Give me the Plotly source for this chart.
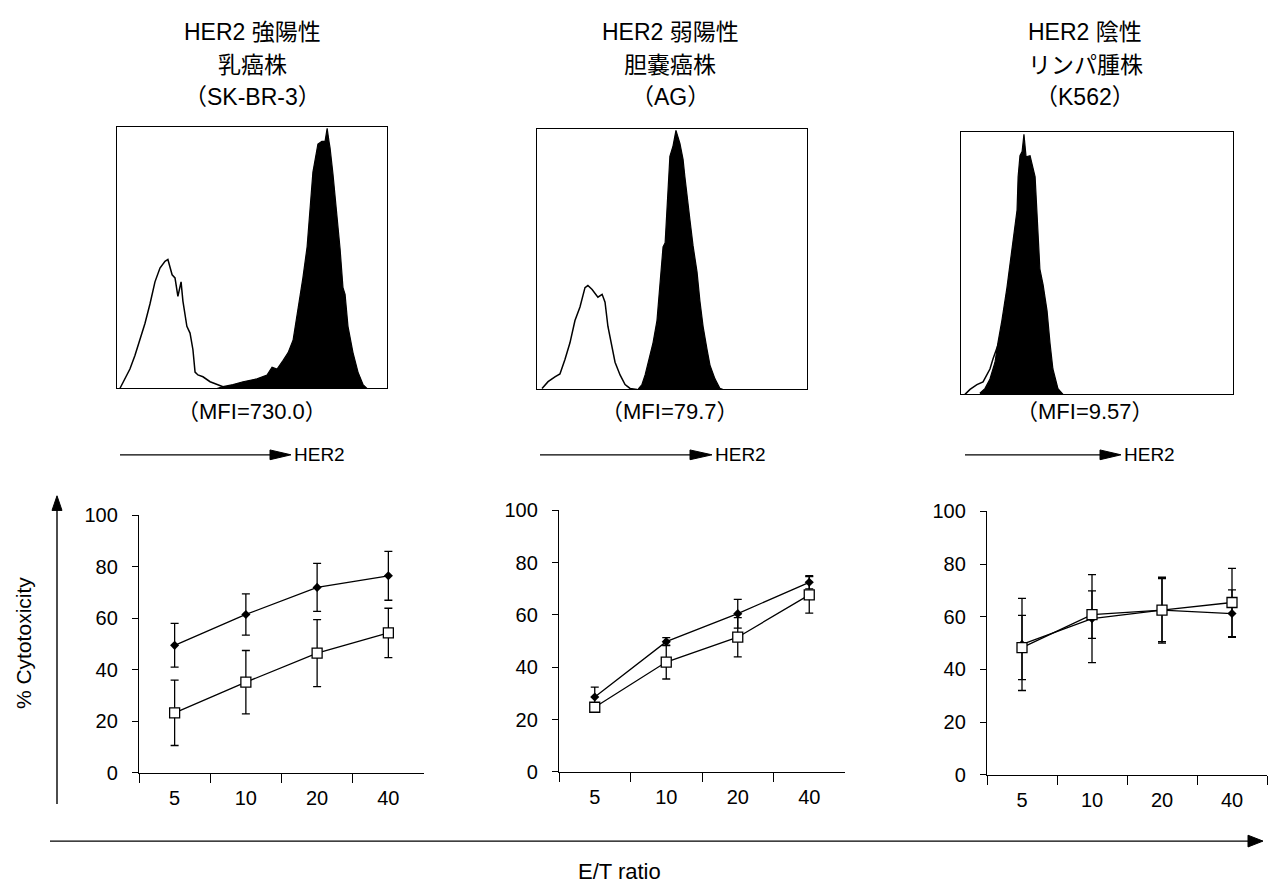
import plotly.graph_objects as go

W, H = 1281, 895

# ---------------- data ----------------
# E/T ratio categories
et_ratio = ["5", "10", "20", "40"]

# % Cytotoxicity, mean and SD: filled (◆) and open (□) series per target line
skbr3_filled = [49.5, 61.5, 72.0, 76.5]
skbr3_filled_sd = [8.5, 8.0, 9.3, 9.5]
skbr3_open = [23.3, 35.2, 46.5, 54.3]
skbr3_open_sd = [12.7, 12.3, 13.0, 9.6]

ag_filled = [28.6, 49.8, 60.5, 72.5]
ag_filled_sd = [3.8, 1.5, 5.5, 2.5]
ag_open = [24.7, 42.0, 51.5, 67.7]
ag_open_sd = [1.5, 6.5, 7.5, 7.0]

k562_filled = [49.5, 59.3, 62.5, 61.2]
k562_filled_sd = [17.5, 16.7, 12.5, 9.0]
k562_open = [48.3, 60.8, 62.5, 65.4]
k562_open_sd = [12.2, 9.0, 12.0, 13.0]

# Flow cytometry histograms (channel 0-1023, relative count 0-100)
skbr3_ctrl_ch = [11, 30, 49, 68, 87, 106, 125, 144, 163, 182, 193, 209, 220, 231, 243,
                 250, 265, 277, 288, 296, 307, 326, 353, 379, 402, 440, 504, 580]
skbr3_ctrl_ct = [0, 3.7, 7.5, 12.7, 18.7, 25, 32.5, 41, 46.3, 48.9, 49.6, 43.7, 42.5, 35.4, 41,
                 33.6, 23.9, 21.3, 14.9, 6.3, 5.2, 4.5, 2.6, 1.5, 0.7, 0.4, 0.2, 0]
skbr3_her2_ch = [379, 402, 440, 478, 531, 569, 588, 607, 630, 649, 668, 686, 705, 721, 732,
                 743, 762, 777, 789, 797, 804, 808, 819, 834, 846, 857, 865, 876, 895, 914,
                 933, 948]
skbr3_her2_ct = [0, 0.7, 1.5, 2.6, 3.7, 5.2, 8.2, 7.5, 10.8, 13.8, 18.7, 29.9, 42.5, 54.5, 68.3,
                 83.2, 94, 95, 95, 100, 95, 92.5, 82.5, 66.4, 53.7, 38.8, 36.2, 23.9, 13.8, 6.3,
                 1.5, 0]

ag_ctrl_ch = [19, 42, 68, 87, 106, 125, 144, 163, 182, 193, 209, 231, 247, 258, 269, 284,
              296, 315, 334, 353, 379]
ag_ctrl_ct = [0.4, 3.0, 4.9, 6.0, 11.6, 18.0, 26.6, 31.8, 39.3, 40.1, 38.6, 35.6, 36.7, 33.7,
              24.3, 16.9, 10.5, 5.6, 1.9, 0.4, 0]
ag_her2_ch = [383, 398, 410, 421, 440, 455, 467, 474, 478, 486, 493, 497, 504, 516, 527,
              542, 554, 561, 569, 580, 592, 607, 618, 630, 645, 656, 675, 694, 706]
ag_her2_ct = [0, 1.9, 5.6, 10.5, 18, 26.6, 40, 50, 55, 56.6, 71, 81, 90, 94, 100,
              95, 88.8, 82, 74, 65.5, 55.4, 45.3, 34, 24.3, 15.4, 9.4, 4.1, 0.4, 0]

k562_ctrl_ch = [15, 34, 60, 83, 109, 120, 150, 180, 210, 240, 270, 300, 330]
k562_ctrl_ct = [0, 1.9, 3.7, 4.8, 9.7, 13.4, 22, 36, 50, 55, 42, 20, 0]
k562_her2_ch = [71, 90, 109, 128, 139, 154, 173, 184, 196, 211, 215, 222, 230, 237, 245,
                260, 279, 286, 294, 297, 309, 324, 335, 346, 365, 384]
k562_her2_ct = [0.4, 2.2, 5.9, 12.3, 19.7, 28.3, 40.9, 50, 58.7, 70.6, 83.3, 91.4, 93, 99.6, 91,
                91.4, 83.3, 68.4, 53.5, 48, 42, 32, 19.7, 9.7, 2.2, 0]

titles = [["HER2 強陽性", "乳癌株", "（SK-BR-3）"],
          ["HER2 弱陽性", "胆嚢癌株", "（AG）"],
          ["HER2 陰性", "リンパ腫株", "（K562）"]]
mfi_labels = ["（MFI=730.0）", "（MFI=79.7）", "（MFI=9.57）"]

# ---------------- layout helpers ----------------
FONT = "Liberation Sans, Arial, Noto Sans CJK JP, sans-serif"


def px(x):
    return x / W


def py(y):
    return 1 - y / H


fig = go.Figure()

hist_boxes = [(117, 387, 119, 387), (537, 807, 121, 388), (961, 1233, 124, 393)]
line_boxes = [(139, 424, 517, 781), (559, 845, 512, 780), (987, 1267, 513, 783)]

hists = [(skbr3_ctrl_ch, skbr3_ctrl_ct, skbr3_her2_ch, skbr3_her2_ct),
         (ag_ctrl_ch, ag_ctrl_ct, ag_her2_ch, ag_her2_ct),
         (k562_ctrl_ch, k562_ctrl_ct, k562_her2_ch, k562_her2_ct)]
curves = [(skbr3_filled, skbr3_filled_sd, skbr3_open, skbr3_open_sd),
          (ag_filled, ag_filled_sd, ag_open, ag_open_sd),
          (k562_filled, k562_filled_sd, k562_open, k562_open_sd)]

axes = {}
for i in range(3):
    # histogram panel
    n = 2 * i + 1
    xa, ya = f"x{n}", f"y{n}"
    c_ch, c_ct, h_ch, h_ct = hists[i]
    fig.add_trace(go.Scatter(x=c_ch, y=c_ct, mode="lines", xaxis=xa, yaxis=ya,
                             line=dict(color="black", width=1.5), showlegend=False))
    fig.add_trace(go.Scatter(x=h_ch, y=h_ct, mode="lines", xaxis=xa, yaxis=ya,
                             line=dict(color="black", width=1.2),
                             fill="tozeroy", fillcolor="black", showlegend=False))
    x0, x1, y0, y1 = hist_boxes[i]
    axes[f"xaxis{n}"] = dict(domain=[px(x0), px(x1)], range=[0, 1024], anchor=ya,
                             showline=True, mirror=True, linecolor="black", linewidth=1.3,
                             showticklabels=False, ticks="", showgrid=False, zeroline=False)
    axes[f"yaxis{n}"] = dict(domain=[py(y1), py(y0)], range=[0, 100.5], anchor=xa,
                             showline=True, mirror=True, linecolor="black", linewidth=1.3,
                             showticklabels=False, ticks="", showgrid=False, zeroline=False)

    # cytotoxicity panel
    n = 2 * i + 2
    xa, ya = f"x{n}", f"y{n}"
    f_y, f_sd, o_y, o_sd = curves[i]
    fig.add_trace(go.Scatter(
        x=et_ratio, y=f_y, mode="lines+markers", xaxis=xa, yaxis=ya, showlegend=False,
        line=dict(color="black", width=1.3),
        marker=dict(symbol="diamond", size=7, color="black"),
        error_y=dict(type="data", array=f_sd, visible=True, color="black",
                     thickness=1.3, width=4)))
    fig.add_trace(go.Scatter(
        x=et_ratio, y=o_y, mode="lines+markers", xaxis=xa, yaxis=ya, showlegend=False,
        line=dict(color="black", width=1.3),
        marker=dict(symbol="square", size=10, color="white",
                    line=dict(color="black", width=1.3)),
        error_y=dict(type="data", array=o_sd, visible=True, color="black",
                     thickness=1.3, width=4)))
    x0, x1, y0, y1 = line_boxes[i]
    axes[f"xaxis{n}"] = dict(domain=[px(x0), px(x1)], type="category",
                             categoryorder="array", categoryarray=et_ratio,
                             range=[-0.5, 3.5], anchor=ya,
                             showline=True, linecolor="black", linewidth=1.3,
                             ticks="outside", tickson="boundaries", ticklen=9,
                             tickwidth=1.2, tickcolor="black", ticklabelstandoff=7,
                             tickfont=dict(family=FONT, size=20, color="black"),
                             showgrid=False, zeroline=False)
    axes[f"yaxis{n}"] = dict(domain=[py(y1), py(y0)], range=[0, 100], anchor=xa,
                             tickvals=[0, 20, 40, 60, 80, 100],
                             showline=True, linecolor="black", linewidth=1.3,
                             ticks="outside", ticklen=6, tickwidth=1.2, tickcolor="black",
                             ticklabelstandoff=10,
                             tickfont=dict(family=FONT, size=20, color="black"),
                             showgrid=False, zeroline=False)

# ---------------- text ----------------
annotations = []
title_cx = [252, 670, 1085]
title_y = [22, 55, 88]
for i in range(3):
    for line, ty in zip(titles[i], title_y):
        annotations.append(dict(x=px(title_cx[i]), y=py(ty), xref="paper", yref="paper",
                                text=line, showarrow=False, xanchor="center",
                                yanchor="middle",
                                font=dict(family=FONT, size=23, color="black")))
    annotations.append(dict(x=px(title_cx[i]), y=py(411), xref="paper", yref="paper",
                            text=mfi_labels[i], showarrow=False, xanchor="center",
                            yanchor="middle",
                            font=dict(family=FONT, size=22, color="black")))

her2_arrows = [(120, 270, 291), (540, 690, 712), (965, 1100, 1121)]
shapes = []
for (a0, a1, tip) in her2_arrows:
    yy = 455
    shapes.append(dict(type="line", xref="paper", yref="paper",
                       x0=px(a0), x1=px(a1 + 2), y0=py(yy), y1=py(yy),
                       line=dict(color="black", width=1.3)))
    shapes.append(dict(type="path", xref="paper", yref="paper",
                       path=f"M {px(a1)},{py(yy - 5)} L {px(tip)},{py(yy)} "
                            f"L {px(a1)},{py(yy + 5)} Z",
                       fillcolor="black", line=dict(color="black", width=1)))
    annotations.append(dict(x=px(tip + 1), y=py(yy), xref="paper", yref="paper",
                            text="HER2", showarrow=False, xanchor="left", yanchor="middle",
                            font=dict(family=FONT, size=19, color="black")))

# vertical axis arrow
shapes.append(dict(type="line", xref="paper", yref="paper",
                   x0=px(57), x1=px(57), y0=py(813), y1=py(508),
                   line=dict(color="black", width=1.4)))
shapes.append(dict(type="path", xref="paper", yref="paper",
                   path=f"M {px(52)},{py(512)} L {px(57)},{py(497)} L {px(62)},{py(512)} Z",
                   fillcolor="black", line=dict(color="black", width=1)))
# horizontal axis arrow
shapes.append(dict(type="line", xref="paper", yref="paper",
                   x0=px(50), x1=px(1252), y0=py(851), y1=py(851),
                   line=dict(color="black", width=1.4)))
shapes.append(dict(type="path", xref="paper", yref="paper",
                   path=f"M {px(1248)},{py(845)} L {px(1263)},{py(851)} L {px(1248)},{py(857)} Z",
                   fillcolor="black", line=dict(color="black", width=1)))

annotations.append(dict(x=px(23), y=py(648), xref="paper", yref="paper",
                        text="% Cytotoxicity", showarrow=False, textangle=-90,
                        xanchor="center", yanchor="middle",
                        font=dict(family=FONT, size=21, color="black")))
annotations.append(dict(x=px(619), y=py(882), xref="paper", yref="paper",
                        text="E/T ratio", showarrow=False, xanchor="center", yanchor="middle",
                        font=dict(family=FONT, size=22, color="black")))

fig.update_layout(width=W, height=H, margin=dict(l=0, r=0, t=0, b=0),
                  paper_bgcolor="white", plot_bgcolor="white",
                  annotations=annotations, shapes=shapes, **axes)

fig.write_html("out.html")
